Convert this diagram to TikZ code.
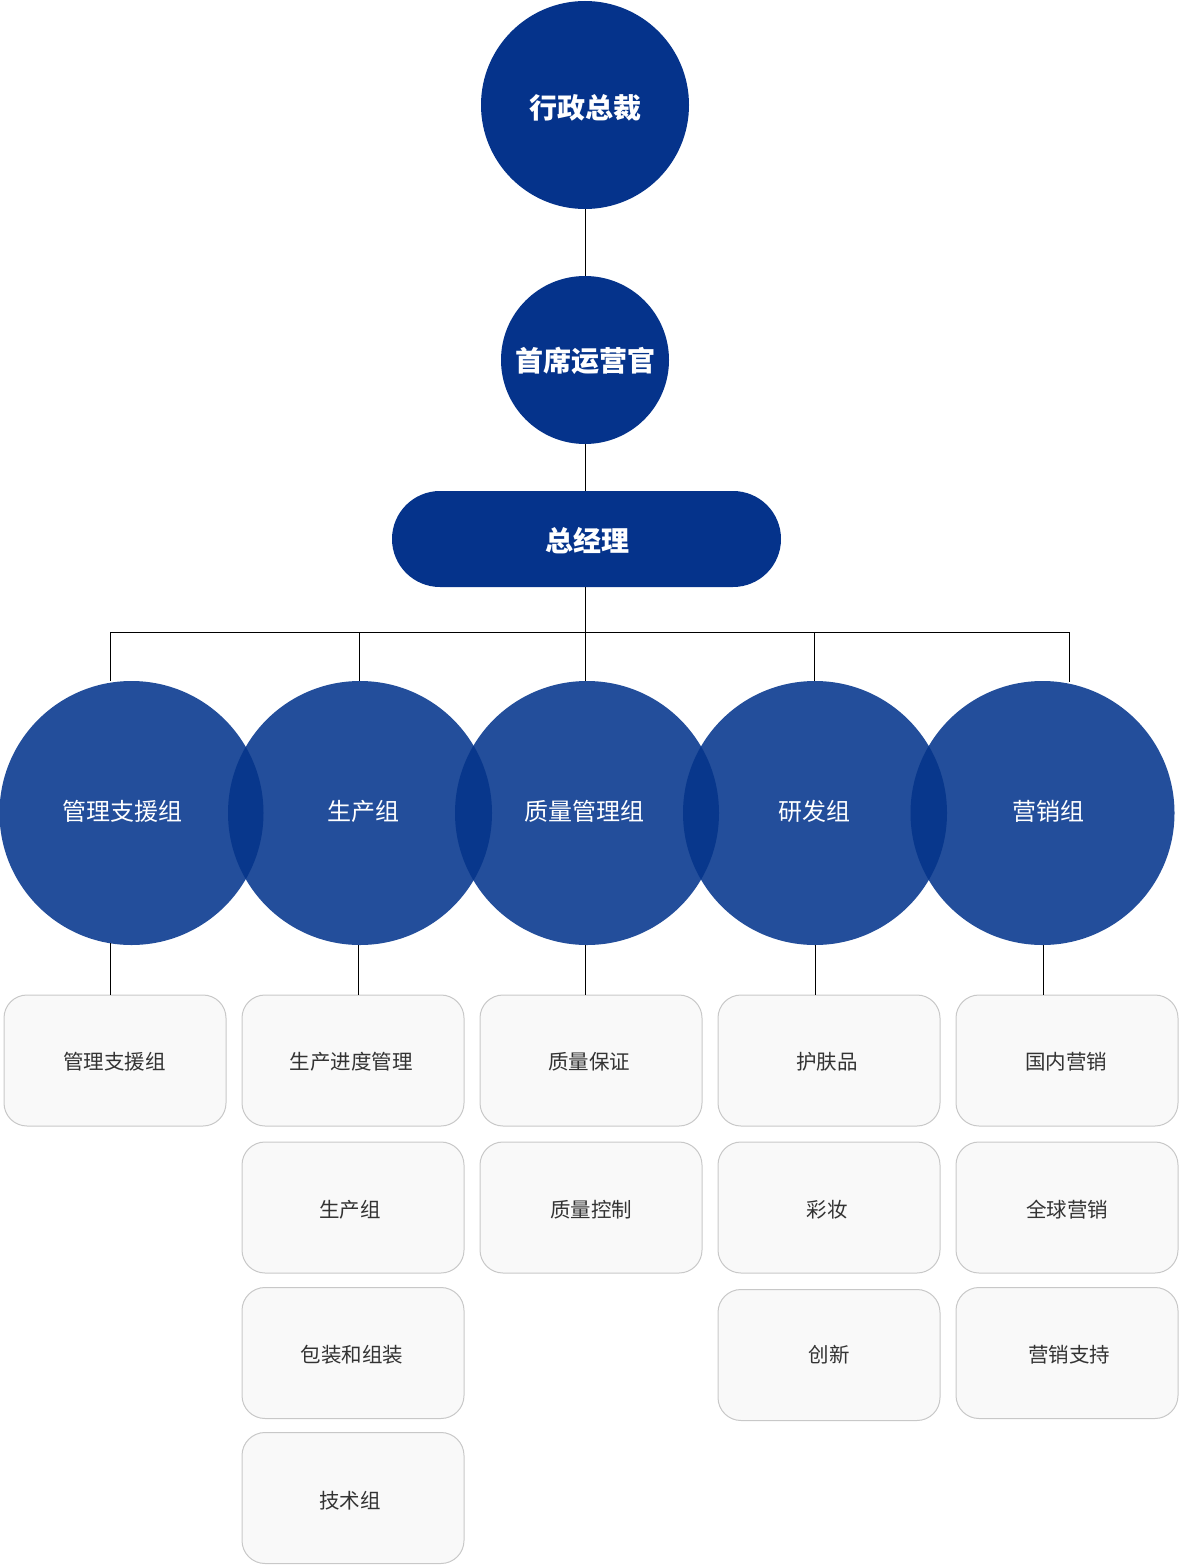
\documentclass[tikz,border=0pt]{standalone}
\usepackage{fontspec}
\setmainfont{Noto Sans CJK SC}
\usetikzlibrary{calc}
\definecolor{topblue}{HTML}{05338B}
\definecolor{grpblue}{HTML}{234E9B}
\definecolor{ovblue}{HTML}{08378C}
\definecolor{boxfill}{HTML}{F9F9F9}
\definecolor{boxline}{HTML}{C8C8C8}
\definecolor{boxtext}{HTML}{333333}
\tikzset{
  conn/.style={draw=black, line width=1pt},
  topc/.style={circle, fill=topblue, inner sep=0pt},
  toptext/.style={inner sep=0pt, text=white, font=\fontsize{28}{30}\selectfont\bfseries},
  gmbox/.style={rectangle, rounded corners=48pt, fill=topblue, minimum width=389pt, minimum height=96pt, inner sep=0pt},
  grpc/.style={circle, fill=grpblue, minimum size=264pt, inner sep=0pt},
  grptext/.style={text=white, font=\fontsize{24}{26}\selectfont, inner sep=0pt},
  unitbox/.style={rectangle, rounded corners=23pt, fill=boxfill, draw=boxline, line width=1pt, minimum width=222pt, minimum height=131pt, inner sep=0pt},
  unittext/.style={inner sep=0pt, text=boxtext, font=\fontsize{20.5}{24}\selectfont},
}
\begin{document}
\begin{tikzpicture}[x=1pt, y=-1pt]
\useasboundingbox (0,0) rectangle (1180,1565);
% top hierarchy
\node[topc, minimum size=208pt] (ceo) at (585,105) {};
\node[toptext] (ceot) at (585,108) {行政总裁};
\node[topc, minimum size=168pt] (coo) at (585,360) {};
\node[toptext] (coot) at (585,361) {首席运营官};
\node[gmbox] (gm) at (586.5,539) {};
\node[toptext] (gmt) at (587,541) {总经理};
\draw[conn] (ceo.south) -- (coo.north);
\draw[conn] (coo.south) -- (coo.south |- gm.north);
% bus
\coordinate (t1) at (110,632);
\coordinate (t2) at (359,632);
\coordinate (t3) at (585,632);
\coordinate (t4) at (814,632);
\coordinate (t5) at (1069,632);
\draw[conn] (t3 |- gm.south) -- (t3);
\draw[conn] (t1) -- (t5);
% group circles
\node[grpc] (c1) at (131.5,813) {};
\node[grpc] (c2) at (360,813) {};
\node[grpc] (c3) at (587,813) {};
\node[grpc] (c4) at (815,813) {};
\node[grpc] (c5) at (1042.5,813) {};
% overlaps
\begin{scope}
  \clip (131.5,813) circle (132pt);
  \fill[ovblue] (360,813) circle (132pt);
\end{scope}
\begin{scope}
  \clip (360,813) circle (132pt);
  \fill[ovblue] (587,813) circle (132pt);
\end{scope}
\begin{scope}
  \clip (587,813) circle (132pt);
  \fill[ovblue] (815,813) circle (132pt);
\end{scope}
\begin{scope}
  \clip (815,813) circle (132pt);
  \fill[ovblue] (1042.5,813) circle (132pt);
\end{scope}
\node[grptext] (g1) at (122,811) {管理支援组};
\node[grptext] (g2) at (363.5,811) {生产组};
\node[grptext] (g3) at (584,811) {质量管理组};
\node[grptext] (g4) at (814,811) {研发组};
\node[grptext] (g5) at (1048,811) {营销组};
\draw[conn] (t1) -- (t1 |- c1.north);
\draw[conn] (t2) -- (t2 |- c2.north);
\draw[conn] (t3) -- (t3 |- c3.north);
\draw[conn] (t4) -- (t4 |- c4.north);
\draw[conn] (t5) -- ($(t5 |- c5.north)+(0,1)$);
% unit boxes
\node[unitbox] (b11) at (115,1060.5) {};
\node[unitbox] (b21) at (353,1060.5) {};
\node[unitbox] (b22) at (353,1207.5) {};
\node[unitbox] (b23) at (353,1353) {};
\node[unitbox] (b24) at (353,1498) {};
\node[unitbox] (b31) at (591,1060.5) {};
\node[unitbox] (b32) at (591,1207.5) {};
\node[unitbox] (b41) at (829,1060.5) {};
\node[unitbox] (b42) at (829,1207.5) {};
\node[unitbox] (b43) at (829,1355) {};
\node[unitbox] (b51) at (1067,1060.5) {};
\node[unitbox] (b52) at (1067,1207.5) {};
\node[unitbox] (b53) at (1067,1353) {};
\node[unittext] at (114.5,1062) {管理支援组};
\node[unittext] at (351,1062) {生产进度管理};
\node[unittext] at (350,1210) {生产组};
\node[unittext] at (352,1355) {包装和组装};
\node[unittext] at (350,1501) {技术组};
\node[unittext] at (589,1062) {质量保证};
\node[unittext] at (591,1210) {质量控制};
\node[unittext] at (827,1062) {护肤品};
\node[unittext] at (827,1210) {彩妆};
\node[unittext] at (829,1355) {创新};
\node[unittext] at (1066,1062) {国内营销};
\node[unittext] at (1067,1210) {全球营销};
\node[unittext] at (1069,1355) {营销支持};
% connectors from circles to boxes
\coordinate (d1) at (110,0);
\coordinate (d2) at (358,0);
\coordinate (d3) at (585,0);
\coordinate (d4) at (815,0);
\coordinate (d5) at (1043,0);
\draw[conn] ($(d1 |- c1.south)+(0,-2)$) -- (d1 |- b11.north);
\draw[conn] (d2 |- c2.south) -- (d2 |- b21.north);
\draw[conn] (d3 |- c3.south) -- (d3 |- b31.north);
\draw[conn] (d4 |- c4.south) -- (d4 |- b41.north);
\draw[conn] (d5 |- c5.south) -- (d5 |- b51.north);
\end{tikzpicture}
\end{document}
